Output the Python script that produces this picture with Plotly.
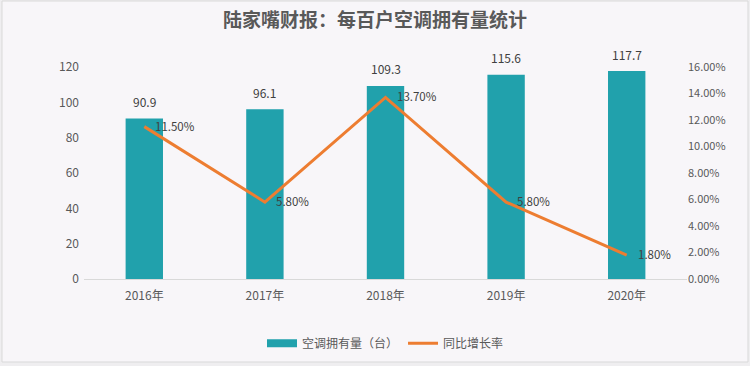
import plotly.graph_objects as go

years = ["2016年", "2017年", "2018年", "2019年", "2020年"]
ac_units = [90.9, 96.1, 109.3, 115.6, 117.7]
growth = [0.115, 0.058, 0.137, 0.058, 0.018]

title_text = "陆家嘴财报：每百户空调拥有量统计"
bar_name = "空调拥有量（台）"
line_name = "同比增长率"

BAR_COLOR = "#21a1ac"
LINE_COLOR = "#ed7d31"
FONT = "Noto Sans CJK SC, Noto Sans, sans-serif"

fig = go.Figure()
fig.add_trace(go.Bar(
    x=years, y=ac_units, name=bar_name, showlegend=False,
    marker=dict(color=BAR_COLOR, line=dict(width=0)),
    width=0.31,
))
fig.add_trace(go.Scatter(
    x=[None], y=[None], name=bar_name, mode="lines",
    line=dict(color=BAR_COLOR, width=8),
))
fig.add_trace(go.Scatter(
    x=years, y=growth, name=line_name, yaxis="y2",
    mode="lines",
    line=dict(color=LINE_COLOR, width=3),
    cliponaxis=False,
))

annotations = []
for x, v in zip(years, ac_units):
    annotations.append(dict(x=x, y=v, xref="x", yref="y", text=f"{v:.1f}",
                            showarrow=False, yshift=17,
                            font=dict(size=12, color="#404040")))
for x, v in zip(years, growth):
    annotations.append(dict(x=x, y=v, xref="x", yref="y2", text=f"{v*100:.2f}%",
                            showarrow=False, xanchor="left", xshift=9, yshift=1,
                            font=dict(size=11.5, color="#404040")))

fig.update_layout(
    width=750, height=366,
    margin=dict(l=84, r=63, t=67, b=87, autoexpand=False),
    paper_bgcolor="#efeef0",
    plot_bgcolor="#f8f6f9",
    font=dict(family=FONT, size=12, color="#595959"),
    title=dict(text=f"<b>{title_text}</b>", x=0.5, xanchor="center", y=0.945, yanchor="middle",
               font=dict(size=19, color="#595959", family=FONT)),
    showlegend=True,
    legend=dict(orientation="h", x=0.5, xanchor="center", y=-0.235, yanchor="top",
                font=dict(size=12, color="#595959"), bgcolor="rgba(0,0,0,0)",
                itemwidth=30),
    annotations=annotations,
    bargap=0.69,
    xaxis=dict(showgrid=False, showline=True, linecolor="#d9d9d9", linewidth=1,
               ticks="", tickfont=dict(size=12, color="#595959"), automargin=False,
               ticklabelstandoff=6),
    yaxis=dict(range=[0, 120], dtick=20, showgrid=False, zeroline=False, showline=False,
               tickfont=dict(size=12, color="#595959"), ticklabelstandoff=4, automargin=False),
    yaxis2=dict(range=[0, 0.16], dtick=0.02, tickformat=".2%", overlaying="y", side="right",
                showgrid=False, zeroline=False, showline=False, automargin=False,
                tickfont=dict(size=11, color="#595959")),
    shapes=[dict(type="rect", xref="paper", yref="paper",
                 x0=-82/603, x1=(603+61)/603, y0=-(87-4)/212, y1=1+(67-1)/212,
                 fillcolor="#f8f6f9", line=dict(color="#d9d9d9", width=1), layer="below")],
)

fig.write_html("out.html", config={"displayModeBar": False},
               post_script="document.body.style.margin='0';document.body.style.overflow='hidden';")
